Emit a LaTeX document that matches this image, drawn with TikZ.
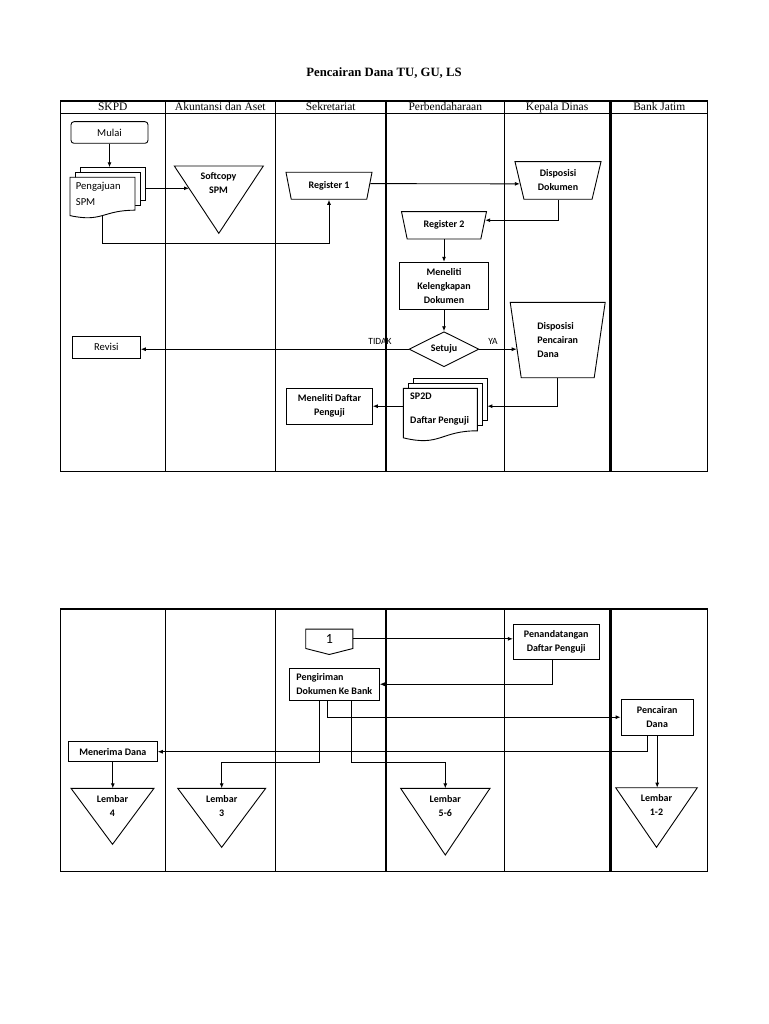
\documentclass[tikz,border=0pt]{standalone}
\usepackage{fontspec}
\setmainfont{Carlito}
\newfontfamily\headfont{Liberation Serif}
\usetikzlibrary{calc,arrows.meta,shapes.geometric}
\def\docstack(#1)(#2,#3)(#4:#5){%
	\foreach \k in {2,1}
		\draw[page] ($(#2,#3)+(5*\k,-5*\k)$) rectangle ++(#4,0.8*#5);
	\draw[page] (#2,#3) -- ++(#4,0) -- ++(0,0.802*#5) .. controls ($(#2,#3)+(0.5*#4,0.802*#5)$) and ($(#2,#3)+(0.5*#4,1.107*#5)$) .. ($(#2,#3)+(0,0.934*#5)$) -- cycle;
	\node[inner sep=0, minimum width=#4, minimum height=0.933*#5, anchor=north west] (#1) at (#2,#3) {};
	\coordinate (#1-top) at ($(#2,#3)+(0,-10)$);
	\coordinate (#1-right) at ($(#2,#3)+(#4+10,0)$);}
\def\mergetri(#1)(#2,#3)(#4:#5){%
	\coordinate (#1) at (#2,#3);
	\draw[outline] ($(#1)+(-#4,0)$) -- ($(#1)+(#4,0)$) -- ($(#1)+(0,#5)$) -- cycle;}

\tikzset{
	lane/.style={line width=1.1pt},
	outline/.style={draw, line width=0.9pt},
	page/.style={draw, line width=0.9pt, fill=white},
	arr/.style={-{Latex[length=5pt,width=4pt]}, line width=0.9pt},
	txt/.style={font=\bfseries\fontsize{10}{14}\selectfont, align=center, inner sep=0},
	plain/.style={font=\fontsize{10.6}{16.6}\selectfont, inner sep=0},
	proc/.style={outline, txt},
	manop/.style={outline, txt, trapezium, shape border rotate=180, trapezium stretches body},
	lanehead/.style={font=\headfont\fontsize{11.5}{13}\selectfont, inner sep=0, anchor=base},
}

\begin{document}
\begin{tikzpicture}[x=1pt,y=-1pt]
	\useasboundingbox (0,0) rectangle (768,1024);
	%%%%% START %%%%%
	
	\node[font=\headfont\bfseries\fontsize{12.7}{15}\selectfont] (title) at (384,73.3) {Pencairan Dana TU, GU, LS};
	
	% lanes, top
	\draw[lane] (60.3,101) rectangle (609.5,471.7);
	\draw[lane] (611,101) rectangle (707.7,471.7);
	\draw[lane] (60.3,113.3) -- (707.7,113.3);
	\foreach \x in {165.3,275.3,386,504.7}
		\draw[lane] (\x,101) -- (\x,471.7);
	\foreach \x/\name [count=\i] in {112.8/SKPD, 220.3/Akuntansi dan Aset, 330.7/Sekretariat, 445.3/Perbendaharaan, 557.1/Kepala Dinas, 659.3/Bank Jatim}
		\node[lanehead] (head\i) at (\x,110.6) {\name};
	
	% lanes, bottom
	\draw[lane] (60.3,609) rectangle (609.5,871.7);
	\draw[lane] (611,609) rectangle (707.7,871.7);
	\foreach \x in {165.3,275.3,386,504.7}
		\draw[lane] (\x,609) -- (\x,871.7);
	
	% SKPD
	\node[outline, plain, rounded corners=3pt, minimum width=77, minimum height=21.6] (Mulai) at (109.5,132.5) {Mulai};
	\docstack(PSPM)(70,177.3)(65:41)
	\node[plain, align=left, anchor=west] (PSPMtxt) at (75.7,194) {Pengajuan\\SPM};
	\node[outline, plain, minimum width=68, minimum height=22.3] (Revisi) at (106.3,347.2) {Revisi};
	
	% Akuntansi dan Aset
	\mergetri(Soft)(218.8,166)(44.5:67.3)
	\node[txt] (Softtxt) at (218.5,183.5) {Softcopy\\SPM};
	\coordinate (Soft-in) at (189,188.3);
	
	% Sekretariat
	\node[manop, trapezium angle=59, minimum width=86, minimum height=27] (Reg1) at (329,185.8) {Register 1};
	\node[proc, minimum width=85.6, minimum height=35.7] (MDP) at (329.5,406.2) {Meneliti Daftar\\Penguji};
	
	% Perbendaharaan
	\node[manop, trapezium angle=57, minimum width=85, minimum height=27.3] (Reg2) at (444,225.3) {Register 2};
	\node[proc, minimum width=88.3, minimum height=47] (MKD) at (444,285.8) {Meneliti\\Kelengkapan\\Dokumen};
	\node[outline, txt, diamond, aspect=2, minimum width=70, minimum height=35] (Setuju) at (444,349.2) {Setuju};
	\node[plain, font=\fontsize{9.5}{11}\selectfont] (tidak) at (380,341.5) {TIDAK};
	\node[plain, font=\fontsize{9.5}{11}\selectfont] (ya) at (493,341.5) {YA};
	\docstack(SP2D)(403.3,388.3)(74:53)
	\node[txt, align=left, anchor=west] (SP2Dtxt) at (410,408.7) {SP2D\\[10pt]Daftar Penguji};
	
	% Kepala Dinas
	\node[manop, trapezium angle=67, minimum width=86, minimum height=37.6] (DispDok) at (558,180.5) {Disposisi\\Dokumen};
	\node[manop, trapezium angle=72.6, minimum width=95, minimum height=75.4, align=left] (DispPD) at (557.7,340) {Disposisi\\Pencairan\\Dana};
	
	\draw[arr] (Mulai.south) -- (Mulai.south |- PSPM-top);
	\draw[arr] (PSPM-right |- Soft-in) -- (Soft-in);
	\draw[arr] (PSPM.south) -- ++(0,27.2) -| (Reg1.270);
	\draw[arr] (Reg1.3) -- (DispDok.185);
	\draw[arr] (DispDok.270) |- (Reg2.7);
	\draw[arr] (Reg2.270) -- (MKD.north);
	\draw[arr] (MKD.south) -- (Setuju.north);
	\draw[arr] (Setuju.west) -- (Setuju.west -| Revisi.east);
	\draw[arr] (Setuju.east) -- (Setuju.east -| DispPD.194);
	\draw[arr] (DispPD.270) |- (SP2D-right |- MDP.east);
	\draw[arr] (SP2D.west |- MDP.east) -- (MDP.east);
	
	% second page
	\node[minimum width=46.7, minimum height=19, inner sep=0, font=\fontsize{14}{16}\selectfont] (conn1) at (329.3,638.8) {1};
	\draw[outline] (conn1.north west) -- (conn1.north east) -- (conn1.south east) -- ($(conn1.south)+(0,6)$) -- (conn1.south west) -- cycle;
	\node[proc, minimum width=85.7, minimum height=35] (PDP) at (556.2,641.5) {Penandatangan\\Daftar Penguji};
	\node[proc, minimum width=90, minimum height=31.7, align=left] (PDB) at (334.3,684.2) {Pengiriman\\Dokumen Ke Bank};
	\node[proc, minimum width=72.3, minimum height=35.7] (PD) at (657.2,717.2) {Pencairan\\Dana};
	\node[proc, minimum width=89, minimum height=20] (MD) at (112.8,751.7) {Menerima Dana};
	
	\mergetri(L4)(112.5,788.3)(41.5:56)
	\node[txt] (L4txt) at (112.5,805.7) {Lembar\\4};
	\mergetri(L3)(221.7,788.3)(44:59)
	\node[txt] (L3txt) at (221.7,805.7) {Lembar\\3};
	\mergetri(L56)(445.3,788.3)(44.7:66.7)
	\node[txt] (L56txt) at (445.3,805.7) {Lembar\\5-6};
	\mergetri(L12)(656.5,787.7)(40.8:59.6)
	\node[txt] (L12txt) at (656.5,805) {Lembar\\1-2};
	
	\draw[arr] (conn1.east) -- (conn1.east -| PDP.west);
	\draw[arr] (PDP.257) |- (PDB.east);
	\draw[arr] ($(PDB.south west)!0.34!(PDB.south east)$) -- ++(0,61.7) -| (L3);
	\draw[arr] ($(PDB.south west)!0.42!(PDB.south east)$) |- (PD.west);
	\draw[arr] ($(PDB.south west)!0.69!(PDB.south east)$) -- ++(0,61.7) -| (L56);
	\draw[arr] ($(PD.south west)!0.37!(PD.south east)$) |- (MD.east);
	\draw[arr] (PD.south) -- (PD.south |- L12);
	\draw[arr] (MD.south) -- (MD.south |- L4);
	
	%%%%% END %%%%%
\end{tikzpicture}
\end{document}
